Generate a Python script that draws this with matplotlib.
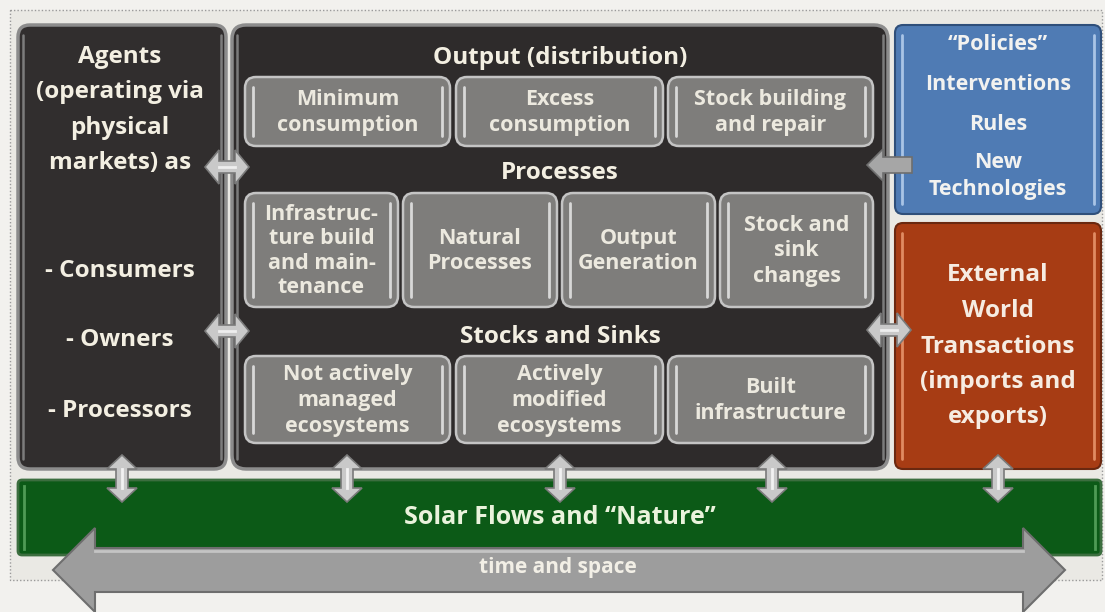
import matplotlib
matplotlib.use("Agg")
import matplotlib.pyplot as plt
from matplotlib.patches import FancyBboxPatch, Polygon, Rectangle

plt.rcParams['font.family'] = ['Open Sans', 'DejaVu Sans']

# ---- diagram content ----
agents_lines = ["Agents", "(operating via", "physical", "markets) as",
                "- Consumers", "- Owners", "- Processors"]
agents_y = [57, 92, 128, 163, 271, 340, 411]

headers = ["Output (distribution)", "Processes", "Stocks and Sinks"]
headers_y = [58, 173, 337]

row1_labels = ["Minimum\nconsumption", "Excess\nconsumption", "Stock building\nand repair"]
row1_x = [(245, 450), (456, 663), (668, 873)]
row1_y = (77, 146)

row2_labels = ["Infrastruc-\nture build\nand main-\ntenance", "Natural\nProcesses",
               "Output\nGeneration", "Stock and\nsink\nchanges"]
row2_x = [(245, 398), (403, 557), (562, 715), (720, 873)]
row2_y = (193, 307)

row3_labels = ["Not actively\nmanaged\necosystems", "Actively\nmodified\necosystems",
               "Built\ninfrastructure"]
row3_x = [(245, 450), (456, 663), (668, 873)]
row3_y = (356, 443)

policy_lines = ["\u201cPolicies\u201d", "Interventions", "Rules", "New", "Technologies"]
policy_y = [45, 85, 124, 163, 190]

external_lines = ["External", "World", "Transactions", "(imports and", "exports)"]
external_y = [275, 311, 347, 382, 417]

solar_label = "Solar Flows and \u201cNature\u201d"
time_label = "time and space"

# double-headed connectors: horizontal (x, y) and vertical (x)
h_arrows = [(227, 167), (227, 331), (889, 330)]
v_arrows_x = [122, 347, 560, 772, 998]

W, H = 1105, 612
fig = plt.figure(figsize=(W / 100, H / 100), dpi=100)
ax = fig.add_axes([0, 0, 1, 1])
ax.set_xlim(0, W)
ax.set_ylim(H, 0)
ax.axis('off')
fig.patch.set_facecolor('#f2f1ee')

TXT = '#f3efe2'


def rbox(x0, x1, y0, y1, fc, ec, lw=2.0, r=10, z=1):
    p = FancyBboxPatch((x0, y0), x1 - x0, y1 - y0,
                       boxstyle="round,pad=0,rounding_size=%d" % r,
                       fc=fc, ec=ec, lw=lw, zorder=z)
    ax.add_patch(p)
    return p


def gloss(x0, x1, y0, y1, col, inset=7, z=2, lw=2.2):
    ax.plot([x0 + inset, x0 + inset], [y0 + 10, y1 - 10], color=col, lw=lw,
            solid_capstyle='round', zorder=z)
    ax.plot([x1 - inset, x1 - inset], [y0 + 10, y1 - 10], color=col, lw=lw,
            solid_capstyle='round', zorder=z)


def harrow(cx, cy, L=44, hl=14, hh=17, sh=6, fc='#c9c9c9', z=6):
    x0, x1 = cx - L / 2, cx + L / 2
    pts = [(x0, cy), (x0 + hl, cy - hh), (x0 + hl, cy - sh), (x1 - hl, cy - sh),
           (x1 - hl, cy - hh), (x1, cy), (x1 - hl, cy + hh), (x1 - hl, cy + sh),
           (x0 + hl, cy + sh), (x0 + hl, cy + hh)]
    ax.add_patch(Polygon(pts, closed=True, fc=fc, ec='#7a7a7a', lw=1.2, zorder=z))
    ax.plot([x0 + hl, x1 - hl], [cy, cy], color='#eeeeee', lw=2, zorder=z + 1)


def varrow(cx, y0, y1, hl=14, hh=15, sh=6, fc='#c9c9c9', z=6):
    pts = [(cx, y0), (cx + hh, y0 + hl), (cx + sh, y0 + hl), (cx + sh, y1 - hl),
           (cx + hh, y1 - hl), (cx, y1), (cx - hh, y1 - hl), (cx - sh, y1 - hl),
           (cx - sh, y0 + hl), (cx - hh, y0 + hl)]
    ax.add_patch(Polygon(pts, closed=True, fc=fc, ec='#7a7a7a', lw=1.2, zorder=z))
    ax.plot([cx, cx], [y0 + hl, y1 - hl], color='#f2f2f2', lw=2, zorder=z + 1)


# page background with dotted border
ax.add_patch(Rectangle((10, 10), 1092, 570, fc='#eae9e4', ec='#9a9a9a', lw=1,
                       ls=(0, (1, 1.5)), zorder=0))

# dark boxes
rbox(18, 226, 25, 469, '#312e2e', '#8c8c8c', lw=2.5, r=12)
gloss(18, 226, 25, 469, '#7c7c7c', inset=5, lw=1.8)
rbox(232, 888, 25, 469, '#2e2b2b', '#8c8c8c', lw=2.5, r=14)
gloss(232, 888, 25, 469, '#7c7c7c', inset=5, lw=1.8)

# blue & orange boxes
rbox(895, 1101, 25, 214, '#4f7bb4', '#2f4f7a', lw=1.5, r=8)
gloss(895, 1101, 25, 214, '#a9c4e6', inset=7, lw=2)
rbox(895, 1101, 223, 469, '#a73c14', '#6a2810', lw=1.5, r=8)
gloss(895, 1101, 223, 469, '#e08b62', inset=7, lw=2)

# inner grey boxes
for labels, xs, (y0, y1) in [(row1_labels, row1_x, row1_y),
                             (row2_labels, row2_x, row2_y),
                             (row3_labels, row3_x, row3_y)]:
    for lab, (x0, x1) in zip(labels, xs):
        rbox(x0, x1, y0, y1, '#7e7d7b', '#c4c4c4', lw=1.8, r=11, z=3)
        gloss(x0, x1, y0, y1, '#d8d8d8', inset=8, z=4, lw=2)
        ls = 1.3 if lab.count('\n') < 3 else 1.22
        ax.text((x0 + x1) / 2, (y0 + y1) / 2 + 1, lab, ha='center', va='center',
                color='#ece9df', fontsize=15.5, fontweight='bold',
                linespacing=ls, zorder=5)

# green bar
rbox(18, 1101, 480, 555, '#0c5a17', '#3c6e3f', lw=2, r=4, z=2)
ax.plot([24, 24], [486, 549], color='#4f9a55', lw=2, zorder=3)
ax.plot([1095, 1095], [486, 549], color='#4f9a55', lw=2, zorder=3)
ax.text(560, 517, solar_label, ha='center', va='center', color='#eaf3dc',
        fontsize=18, fontweight='bold', zorder=5)

# time and space arrow
tx0, tx1, ty = 53, 1065, 570
thl, thh, tsh = 42, 42, 22
tpts = [(tx0, ty), (tx0 + thl, ty - thh), (tx0 + thl, ty - tsh), (tx1 - thl, ty - tsh),
        (tx1 - thl, ty - thh), (tx1, ty), (tx1 - thl, ty + thh), (tx1 - thl, ty + tsh),
        (tx0 + thl, ty + tsh), (tx0 + thl, ty + thh)]
ax.add_patch(Polygon(tpts, closed=True, fc='#9d9d9d', ec='#6e6e6e', lw=1.5, zorder=6))
ax.plot([tx0 + thl, tx1 - thl], [ty - tsh + 3, ty - tsh + 3], color='#c4c4c4', lw=2, zorder=7)
ax.text(558, 568, time_label, ha='center', va='center', color='#f2efe6',
        fontsize=15, fontweight='bold', zorder=8)

# texts in dark boxes
for s, y in zip(agents_lines, agents_y):
    ax.text(120, y, s, ha='center', va='center', color=TXT, fontsize=17.5,
            fontweight='bold', zorder=5)
for s, y in zip(headers, headers_y):
    ax.text(560, y, s, ha='center', va='center', color=TXT, fontsize=17.5,
            fontweight='bold', zorder=5)
for s, y in zip(policy_lines, policy_y):
    ax.text(998, y, s, ha='center', va='center', color='#f2f2f0', fontsize=15.5,
            fontweight='bold', zorder=5)
for s, y in zip(external_lines, external_y):
    ax.text(998, y, s, ha='center', va='center', color='#f6ece2', fontsize=17.5,
            fontweight='bold', zorder=5)

# connectors
for cx, cy in h_arrows:
    harrow(cx, cy)
for cx in v_arrows_x:
    varrow(cx, 455, 502)

# single arrow from policies into the central box
px0, px1, py = 867, 912, 165
ppts = [(px0, py), (px0 + 16, py - 16), (px0 + 16, py - 8), (px1, py - 8),
        (px1, py + 8), (px0 + 16, py + 8), (px0 + 16, py + 16)]
ax.add_patch(Polygon(ppts, closed=True, fc='#a6a6a6', ec='#6e6e6e', lw=1.2, zorder=6))

fig.savefig('out.png', dpi=100, facecolor=fig.get_facecolor())
